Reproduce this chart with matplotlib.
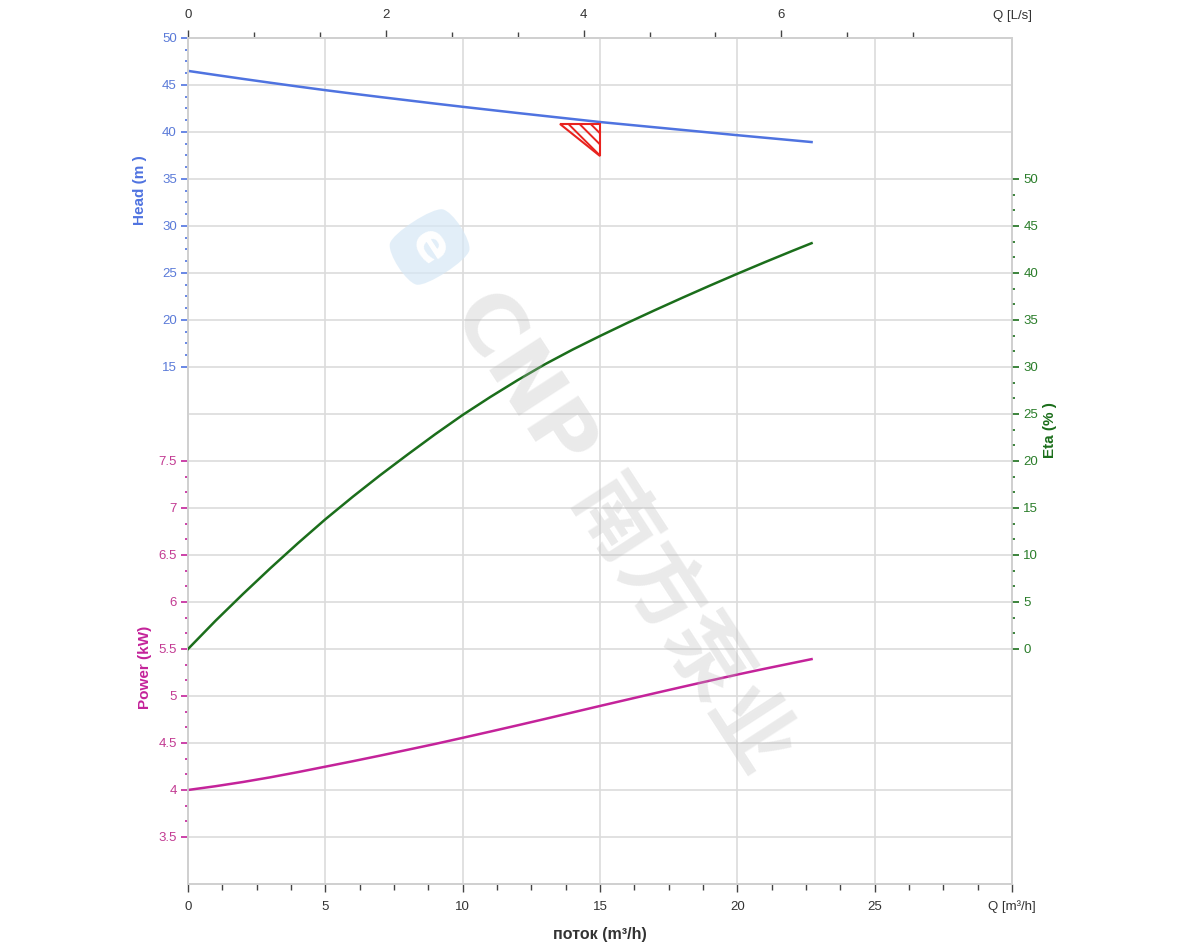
import numpy as np
import matplotlib
matplotlib.use('Agg')
import matplotlib.pyplot as plt
from matplotlib.ticker import FixedLocator, FixedFormatter, MultipleLocator
from matplotlib.patches import Polygon

# curve readings (Q in m3/h)
q = [0, 1, 2, 3, 4, 5, 6, 7, 8, 9, 10, 11, 12, 13, 14, 15, 16, 17, 18, 19,
     20, 21, 22, 22.7]
head = [46.5, 46.07, 45.65, 45.24, 44.84, 44.45, 44.08, 43.72, 43.37, 43.02,
        42.68, 42.35, 42.02, 41.70, 41.38, 41.06, 40.78, 40.5, 40.22, 39.94,
        39.66, 39.39, 39.12, 38.93]
eta = [0, 3.0, 5.85, 8.6, 11.25, 13.8, 16.2, 18.5, 20.7, 22.85, 24.9, 26.8,
       28.6, 30.3, 31.85, 33.3, 34.7, 36.05, 37.37, 38.66, 39.92, 41.15, 42.35,
       43.17]
power = [4.0, 4.04, 4.085, 4.135, 4.19, 4.248, 4.306, 4.366, 4.428, 4.49,
         4.555, 4.621, 4.688, 4.756, 4.825, 4.894, 4.962, 5.03, 5.097, 5.163,
         5.228, 5.29, 5.35, 5.392]

# duty point marker (triangle)
duty_q = [13.55, 15.0, 15.0]
duty_h = [40.85, 40.85, 37.45]

head_ticks = [15, 20, 25, 30, 35, 40, 45, 50]
power_ticks = [3.5, 4, 4.5, 5, 5.5, 6, 6.5, 7, 7.5]
eta_ticks = [0, 5, 10, 15, 20, 25, 30, 35, 40, 45, 50]
q_ticks = [0, 5, 10, 15, 20, 25, 30]
q_labels = ['0', '5', '10', '15', '20', '25', 'Q [m³/h]']
ls_ticks = [0, 2, 4, 6]

c_head = '#4f73e0'
c_eta = '#1b6e1b'
c_pow = '#c4239a'
c_grid = '#dcdcdc'
tick_font = ['Liberation Sans', 'DejaVu Sans']
lab_font = ['Liberation Sans', 'DejaVu Sans']
plt.rcParams['hatch.linewidth'] = 1.4

fig = plt.figure(figsize=(12, 9.5), dpi=100)
ax = fig.add_axes([0.1567, 0.0695, 0.6867, 0.8905])
ax_p = ax.twinx()
ax_e = ax.twinx()

ax.set_xlim(0, 30)
ax.set_ylim(-40, 50)
ax_p.set_ylim(3, 12)
ax_e.set_ylim(-25, 65)

# grid
for lvl in np.arange(-40, 51, 5):
    ax.axhline(lvl, color=c_grid, lw=1.2, zorder=0)
for xv in q_ticks[1:-1]:
    ax.axvline(xv, color=c_grid, lw=1.2, zorder=0)

for a in (ax, ax_p, ax_e):
    for s in a.spines.values():
        s.set_color('#d0d0d0')
        s.set_linewidth(1.2)
    a.set_facecolor('none')

# watermark
fig.text(0.518, 0.44, 'CNP 南方泵业', rotation=-57, ha='center', va='center',
         fontsize=60, fontweight='bold', color='#bbbbbb', alpha=0.3,
         family=['DejaVu Sans', 'Noto Sans CJK SC'], zorder=0)
fig.text(0.358, 0.74, 'e', rotation=-57, ha='center', va='center',
         fontsize=36, fontweight='bold', color='white',
         bbox=dict(boxstyle='round4,pad=0.3', fc='#d6e8f6', ec='none', alpha=0.7))

# curves
ax.plot(q, head, color=c_head, lw=1.8, zorder=3)
ax_e.plot(q, eta, color=c_eta, lw=1.8, zorder=3)
ax_p.plot(q, power, color=c_pow, lw=1.8, zorder=3)
tri = Polygon(list(zip(duty_q, duty_h)), closed=True, facecolor='none',
              edgecolor='#e8231f', hatch='\\' * 3, lw=1.5, zorder=4)
ax.add_patch(tri)

# x axis (bottom)
ax.xaxis.set_major_locator(FixedLocator(q_ticks))
ax.xaxis.set_major_formatter(FixedFormatter(q_labels))
ax.xaxis.set_minor_locator(MultipleLocator(1.25))
ax.tick_params(axis='x', which='major', direction='out', length=6, width=1,
               color='#444444', labelcolor='#333333', labelsize=9.5, pad=6)
ax.tick_params(axis='x', which='minor', direction='out', length=4, width=1,
               color='#444444')
for t in ax.get_xticklabels():
    t.set_family(tick_font)

# top axis in L/s
sec = ax.secondary_xaxis('top', functions=(lambda x: x / 3.6, lambda x: x * 3.6))
sec.xaxis.set_major_locator(FixedLocator(ls_ticks))
sec.xaxis.set_minor_locator(FixedLocator([2 / 3 * i for i in range(12) if i % 3]))
sec.tick_params(which='major', length=6, width=1, color='#444444',
                labelcolor='#333333', labelsize=9.5, pad=6)
sec.tick_params(which='minor', length=4, width=1, color='#444444')
sec.spines['top'].set_visible(False)
for t in sec.get_xticklabels():
    t.set_family(tick_font)
ax.text(1.0, 1.0 + 16 / 846, 'Q [L/s]', transform=ax.transAxes, ha='center',
        va='bottom', fontsize=9.5, color='#333333', family=tick_font)

# head axis (left)
ax.yaxis.set_major_locator(FixedLocator(head_ticks))
ax.yaxis.set_major_formatter(FixedFormatter(['%g' % v for v in head_ticks]))
ax.yaxis.set_minor_locator(FixedLocator([15 + 1.25 * i for i in range(29) if i % 4]))
ax.tick_params(axis='y', which='major', length=5, width=1.2, color=c_head,
               labelcolor='#5a7ad8', labelsize=9.5, pad=3)
ax.tick_params(axis='y', which='minor', length=2, width=1.2, color=c_head)

# power axis (left)
ax_p.yaxis.set_ticks_position('left')
ax_p.yaxis.set_major_locator(FixedLocator(power_ticks))
ax_p.yaxis.set_major_formatter(FixedFormatter(['%g' % v for v in power_ticks]))
ax_p.yaxis.set_minor_locator(FixedLocator([3.5 + 0.5 / 3 * i for i in range(25) if i % 3]))
ax_p.tick_params(axis='y', which='major', length=5, width=1.2, color=c_pow,
                 labelcolor='#c23a92', labelsize=9.5, pad=3)
ax_p.tick_params(axis='y', which='minor', length=2, width=1.2, color=c_pow)

# eta axis (right)
ax_e.yaxis.set_major_locator(FixedLocator(eta_ticks))
ax_e.yaxis.set_major_formatter(FixedFormatter(['%g' % v for v in eta_ticks]))
ax_e.yaxis.set_minor_locator(FixedLocator([5 / 3 * i for i in range(31) if i % 3]))
ax_e.tick_params(axis='y', which='major', length=5, width=1.2, color=c_eta,
                 labelcolor='#2a7d2a', labelsize=9.5, pad=3)
ax_e.tick_params(axis='y', which='minor', length=2, width=1.2, color=c_eta)

for a in (ax, ax_p, ax_e):
    for t in a.get_yticklabels():
        t.set_family(tick_font)

# axis titles
fig.text(0.1167, 0.80, 'Head (m )', rotation=90, ha='center', va='center',
         fontsize=11, fontweight='bold', color=c_head, family=lab_font)
fig.text(0.121, 0.297, 'Power (kW)', rotation=90, ha='center', va='center',
         fontsize=11, fontweight='bold', color=c_pow, family=lab_font)
fig.text(0.875, 0.547, 'Eta (% )', rotation=90, ha='center', va='center',
         fontsize=11, fontweight='bold', color=c_eta, family=lab_font)
fig.text(0.5, 0.016, 'поток (m³/h)', ha='center', va='center',
         fontsize=11.5, fontweight='bold', color='#333333', family=lab_font)

fig.savefig('out.png', dpi=100)
